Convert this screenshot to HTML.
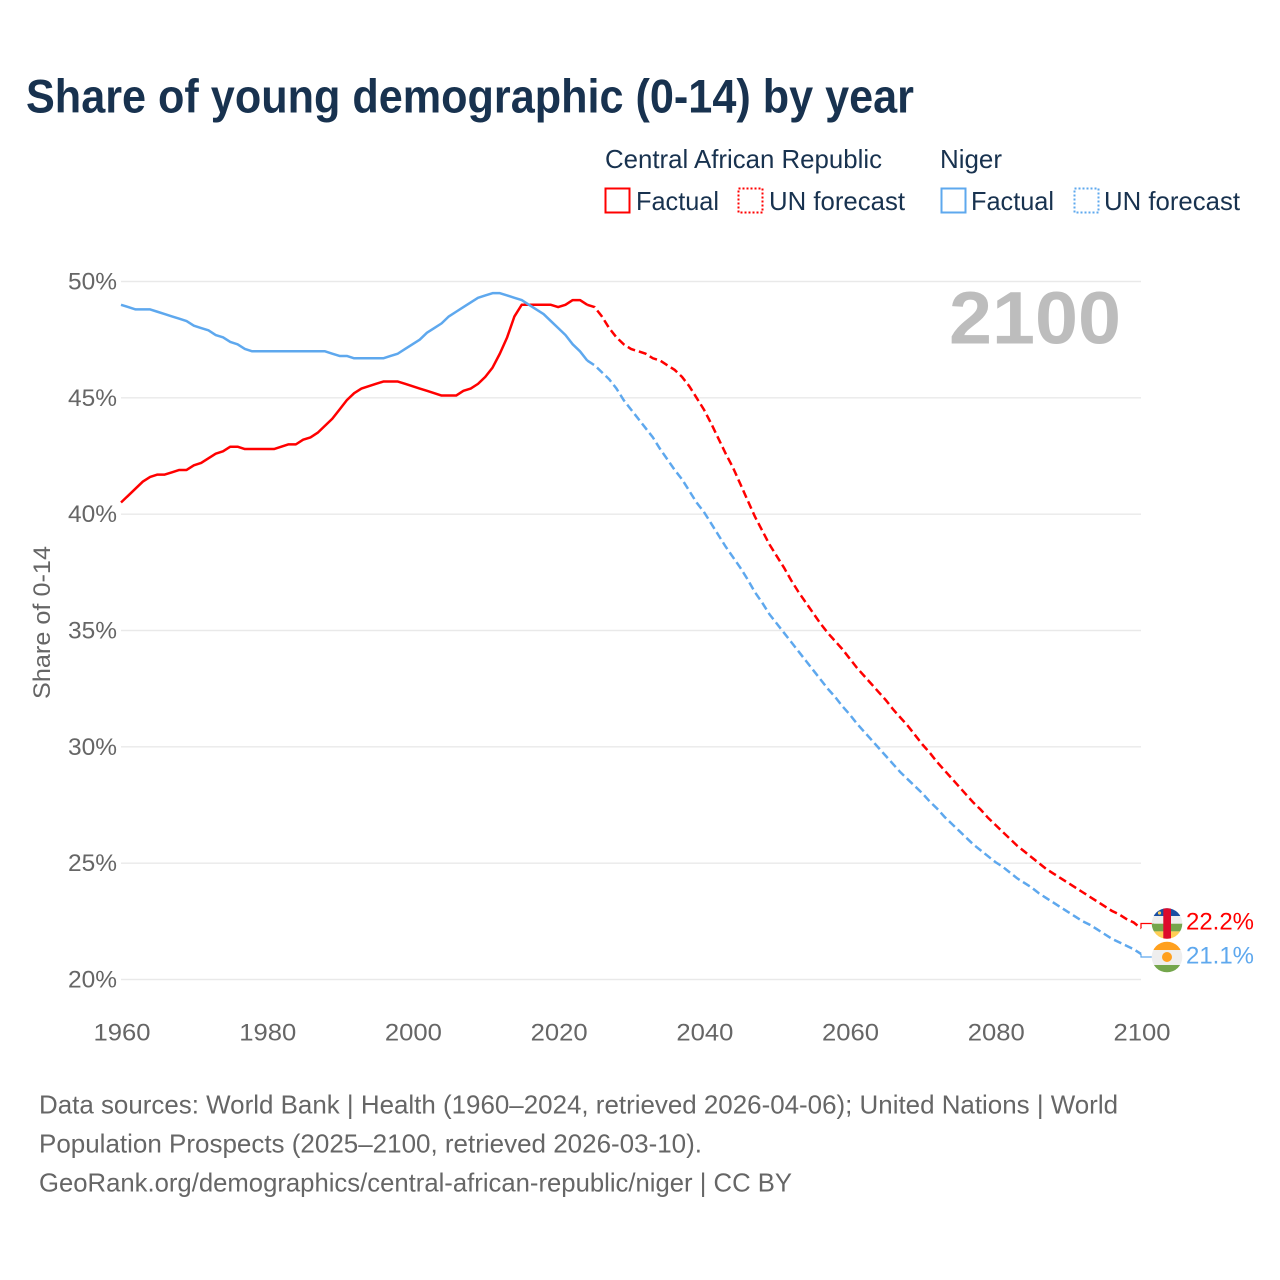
<!DOCTYPE html>
<html lang="en">
<head>
<meta charset="utf-8">
<title>Share of young demographic (0-14) by year</title>
<style>
html,body{margin:0;padding:0;background:#fff;width:1280px;height:1280px;overflow:hidden}
svg{display:block}
text{font-family:"Liberation Sans",sans-serif}
</style>
</head>
<body>
<svg id="chart" xmlns="http://www.w3.org/2000/svg" width="1280" height="1280" viewBox="0 0 1280 1280">
<defs>
<clipPath id="flag-clip-car"><circle cx="1167" cy="923.5" r="15.3"/></clipPath>
<clipPath id="flag-clip-niger"><circle cx="1167" cy="957" r="15.3"/></clipPath>
</defs>
<rect x="0" y="0" width="1280" height="1280" fill="#fff"/>
<text x="26" y="112.5" font-size="47" font-weight="700" fill="#18324f" textLength="888" lengthAdjust="spacingAndGlyphs">Share of young demographic (0-14) by year</text>

<g font-size="26" fill="#18324f">
<text x="605" y="168" textLength="277" lengthAdjust="spacingAndGlyphs">Central African Republic</text>
<text x="940" y="168" textLength="62" lengthAdjust="spacingAndGlyphs">Niger</text>
<rect x="605.5" y="188.5" width="24" height="24" fill="none" stroke="#ff0000" stroke-width="2"/>
<text x="636" y="210" textLength="83" lengthAdjust="spacingAndGlyphs">Factual</text>
<rect x="738.5" y="188.5" width="24" height="24" fill="none" stroke="#ff0000" stroke-width="2" stroke-dasharray="2 2"/>
<text x="769" y="210" textLength="136" lengthAdjust="spacingAndGlyphs">UN forecast</text>
<rect x="941.5" y="188.5" width="24" height="24" fill="none" stroke="#5ea8ee" stroke-width="2"/>
<text x="971" y="210" textLength="83" lengthAdjust="spacingAndGlyphs">Factual</text>
<rect x="1074.5" y="188.5" width="24" height="24" fill="none" stroke="#5ea8ee" stroke-width="2" stroke-dasharray="2 2"/>
<text x="1104" y="210" textLength="136" lengthAdjust="spacingAndGlyphs">UN forecast</text>
</g>

<g id="grid"></g>
<g id="y-ticks" font-size="24" fill="#666"></g>
<g id="x-ticks" font-size="24" fill="#666"></g>
<text transform="translate(50,699) rotate(-90)" x="0" y="0" font-size="24" fill="#666" textLength="153" lengthAdjust="spacingAndGlyphs">Share of 0-14</text>
<text x="949" y="343.5" font-size="74" font-weight="700" fill="#bdbdbd" textLength="172" lengthAdjust="spacingAndGlyphs">2100</text>
<g id="series"></g>

<g clip-path="url(#flag-clip-car)">
<rect x="1151" y="908" width="32" height="8" fill="#1a4fa3"/>
<rect x="1151" y="916" width="32" height="7.7" fill="#eeeeee"/>
<rect x="1151" y="923.7" width="32" height="7.7" fill="#74a64c"/>
<rect x="1151" y="931.4" width="32" height="8" fill="#ffce54"/>
<rect x="1163.3" y="908" width="7.7" height="32" fill="#dd0a2c"/>
<circle cx="1159.5" cy="913" r="1.6" fill="#ffce54"/>
</g>
<g clip-path="url(#flag-clip-niger)">
<rect x="1151" y="941" width="32" height="9" fill="#ffa01e"/>
<rect x="1151" y="950" width="32" height="15" fill="#eeeeee"/>
<rect x="1151" y="965" width="32" height="8" fill="#74a64c"/>
<circle cx="1167" cy="957" r="5" fill="#ffa01e"/>
</g>
<g id="end-labels" font-size="24"></g>

<g font-size="26" fill="#666">
<text x="39" y="1113.5" textLength="1079" lengthAdjust="spacingAndGlyphs">Data sources: World Bank | Health (1960–2024, retrieved 2026-04-06); United Nations | World</text>
<text x="39" y="1152.5" textLength="663" lengthAdjust="spacingAndGlyphs">Population Prospects (2025–2100, retrieved 2026-03-10).</text>
<text x="39" y="1191.5" textLength="753" lengthAdjust="spacingAndGlyphs">GeoRank.org/demographics/central-african-republic/niger | CC BY</text>
</g>
</svg>

<script>
const years = [
1960,1961,1962,1963,1964,1965,1966,1967,1968,1969,
1970,1971,1972,1973,1974,1975,1976,1977,1978,1979,
1980,1981,1982,1983,1984,1985,1986,1987,1988,1989,
1990,1991,1992,1993,1994,1995,1996,1997,1998,1999,
2000,2001,2002,2003,2004,2005,2006,2007,2008,2009,
2010,2011,2012,2013,2014,2015,2016,2017,2018,2019,
2020,2021,2022,2023,2024,2025,2026,2027,2028,2029,
2030,2031,2032,2033,2034,2035,2036,2037,2038,2039,
2040,2041,2042,2043,2044,2045,2046,2047,2048,2049,
2050,2051,2052,2053,2054,2055,2056,2057,2058,2059,
2060,2061,2062,2063,2064,2065,2066,2067,2068,2069,
2070,2071,2072,2073,2074,2075,2076,2077,2078,2079,
2080,2081,2082,2083,2084,2085,2086,2087,2088,2089,
2090,2091,2092,2093,2094,2095,2096,2097,2098,2099,
2100];
const carShare = [
40.5,40.8,41.1,41.4,41.6,41.7,41.7,41.8,41.9,41.9,
42.1,42.2,42.4,42.6,42.7,42.9,42.9,42.8,42.8,42.8,
42.8,42.8,42.9,43.0,43.0,43.2,43.3,43.5,43.8,44.1,
44.5,44.9,45.2,45.4,45.5,45.6,45.7,45.7,45.7,45.6,
45.5,45.4,45.3,45.2,45.1,45.1,45.1,45.3,45.4,45.6,
45.9,46.3,46.9,47.6,48.5,49.0,49.0,49.0,49.0,49.0,
48.9,49.0,49.2,49.2,49.0,48.9,48.5,48.0,47.6,47.3,
47.1,47.0,46.9,46.7,46.6,46.4,46.2,45.9,45.5,45.0,
44.5,43.9,43.25,42.6,42.0,41.3,40.6,39.9,39.3,38.7,
38.2,37.7,37.15,36.65,36.2,35.75,35.3,34.9,34.55,34.2,
33.8,33.4,33.05,32.7,32.35,32.0,31.6,31.25,30.9,30.5,
30.1,29.75,29.35,29.0,28.65,28.3,27.95,27.6,27.3,26.95,
26.65,26.35,26.05,25.75,25.5,25.25,25.0,24.75,24.55,24.35,
24.15,23.95,23.75,23.55,23.35,23.15,22.95,22.8,22.6,22.45,
22.2];
const nigerShare = [
49.0,48.9,48.8,48.8,48.8,48.7,48.6,48.5,48.4,48.3,
48.1,48.0,47.9,47.7,47.6,47.4,47.3,47.1,47.0,47.0,
47.0,47.0,47.0,47.0,47.0,47.0,47.0,47.0,47.0,46.9,
46.8,46.8,46.7,46.7,46.7,46.7,46.7,46.8,46.9,47.1,
47.3,47.5,47.8,48.0,48.2,48.5,48.7,48.9,49.1,49.3,
49.4,49.5,49.5,49.4,49.3,49.2,49.0,48.8,48.6,48.3,
48.0,47.7,47.3,47.0,46.6,46.4,46.1,45.8,45.4,44.9,
44.5,44.1,43.7,43.3,42.8,42.35,41.9,41.5,41.0,40.5,
40.1,39.6,39.1,38.6,38.15,37.7,37.2,36.65,36.2,35.7,
35.3,34.9,34.5,34.1,33.7,33.3,32.9,32.5,32.15,31.75,
31.4,31.0,30.65,30.3,29.95,29.6,29.25,28.9,28.6,28.3,
28.0,27.65,27.35,27.0,26.7,26.4,26.1,25.8,25.55,25.3,
25.05,24.85,24.6,24.35,24.15,23.95,23.7,23.5,23.3,23.1,
22.9,22.7,22.5,22.35,22.15,21.95,21.75,21.6,21.45,21.3,
21.1];
const lastFactualYear = [2024];
const yTickValues = [20,25,30,35,40,45,50];
const yTickLabels = ['20%','25%','30%','35%','40%','45%','50%'];
const xTickValues = [1960,1980,2000,2020,2040,2060,2080,2100];
const xTickLabels = ['1960','1980','2000','2020','2040','2060','2080','2100'];

const NS = 'http://www.w3.org/2000/svg';
const plot = {left:121, right:1141, top:281.5, bottom:979.5};
function xScale(year){
  return plot.left + (year - 1960) * (plot.right - plot.left) / (2100 - 1960);
}
function yScale(value){
  return plot.bottom - (value - 20) * (plot.bottom - plot.top) / (50 - 20);
}
function make(tag, parent, attrs){
  const el = document.createElementNS(NS, tag);
  for (const k in attrs) el.setAttribute(k, attrs[k]);
  parent.appendChild(el);
  return el;
}
const gridG = document.getElementById('grid');
const yG = document.getElementById('y-ticks');
yTickValues.forEach(function(v, i){
  const line = make('line', gridG, {x1:plot.left, x2:plot.right, y1:yScale(v), y2:yScale(v), stroke:'#e9e9e9', 'stroke-width':1.4});
  
  
  const t = make('text', yG, {x:68, y:yScale(v)+8, textLength:49, lengthAdjust:'spacingAndGlyphs'});
  
  
  t.textContent = yTickLabels[i];
});
const xG = document.getElementById('x-ticks');
xTickValues.forEach(function(v, i){
  const t = make('text', xG, {x:xScale(v)+1, y:1040.5, 'text-anchor':'middle', textLength:57, lengthAdjust:'spacingAndGlyphs'});
  
  
  t.textContent = xTickLabels[i];
});
function pathFor(values, from, to){
  const pts = [];
  years.forEach(function(y, i){
    if (y >= from && y <= to) pts.push(xScale(y).toFixed(2) + ',' + yScale(values[i]).toFixed(2));
  });
  return 'M' + pts.join('L');
}
const seriesG = document.getElementById('series');
const splitYear = lastFactualYear[0];
const lastYear = years[years.length - 1];

const carFactual = make('path', seriesG, {d:pathFor(carShare, 1960, splitYear), fill:'none', stroke:'#ff0000', 'stroke-width':2.5, 'stroke-linejoin':'round'});


const carForecast = make('path', seriesG, {d:pathFor(carShare, splitYear, lastYear), fill:'none', stroke:'#ff0000', 'stroke-width':2.5, 'stroke-dasharray':'8 4'});


const nigerFactual = make('path', seriesG, {d:pathFor(nigerShare, 1960, splitYear), fill:'none', stroke:'#5ea8ee', 'stroke-width':2.5, 'stroke-linejoin':'round'});


const nigerForecast = make('path', seriesG, {d:pathFor(nigerShare, splitYear, lastYear), fill:'none', stroke:'#5ea8ee', 'stroke-width':2.5, 'stroke-dasharray':'8 4'});



const carEnd = carShare[carShare.length - 1];
const nigerEnd = nigerShare[nigerShare.length - 1];
const carLeader = make('path', seriesG, {d:'M' + xScale(lastYear) + ',' + yScale(carEnd) + 'V923.5H1154', fill:'none', stroke:'#ff0000', 'stroke-width':1.2});


const nigerLeader = make('path', seriesG, {d:'M' + xScale(lastYear) + ',' + yScale(nigerEnd) + 'V957H1154', fill:'none', stroke:'#5ea8ee', 'stroke-width':1.2});



const labelG = document.getElementById('end-labels');
const carLabel = make('text', labelG, {x:1186, y:929.5, fill:'#ff0000', textLength:68, lengthAdjust:'spacingAndGlyphs'});


carLabel.textContent = carEnd.toFixed(1) + '%';
const nigerLabel = make('text', labelG, {x:1186, y:963.5, fill:'#5ea8ee', textLength:68, lengthAdjust:'spacingAndGlyphs'});


nigerLabel.textContent = nigerEnd.toFixed(1) + '%';
</script>
</body>
</html>
